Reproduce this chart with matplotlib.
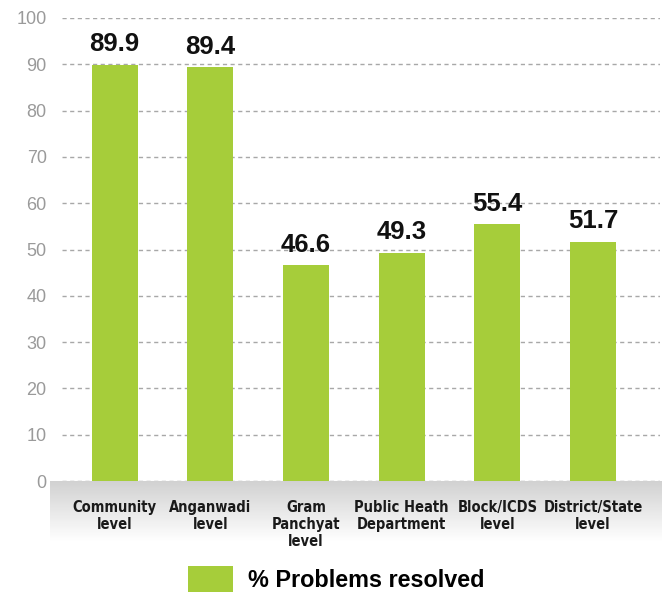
import numpy as np
import matplotlib.pyplot as plt

# Share of problems resolved at each level
categories = ["Community\nlevel", "Anganwadi\nlevel", "Gram\nPanchyat\nlevel",
              "Public Heath\nDepartment", "Block/ICDS\nlevel", "District/State\nlevel"]
resolved = [89.9, 89.4, 46.6, 49.3, 55.4, 51.7]
series_name = "% Problems resolved"
yticks = [0, 10, 20, 30, 40, 50, 60, 70, 80, 90, 100]

green = "#a6cd3a"
W, H = 662, 592

fig = plt.figure(figsize=(W / 100, H / 100), dpi=100)

# grey fade under the category labels
bg = fig.add_axes([50 / W, 1 - 542 / H, 612 / W, 61 / H], zorder=0)
grad = np.linspace(0.82, 1.0, 100).reshape(-1, 1)
bg.imshow(grad, aspect="auto", cmap="gray", vmin=0, vmax=1, extent=[0, 1, 0, 1])
bg.axis("off")

ax = fig.add_axes([62 / W, 1 - 481 / H, 598 / W, 463 / H], zorder=1)
ax.patch.set_alpha(0)

x = np.arange(len(categories))
bars = ax.bar(x, resolved, width=0.48, color=green, zorder=2, label=series_name)

for xi, v in zip(x, resolved):
    ax.annotate(f"{v}", (xi, v), xytext=(0, 6), textcoords="offset points",
                ha="center", va="bottom", fontsize=18.5, fontweight="bold",
                family=["Liberation Sans", "DejaVu Sans"], color="#111111")

ax.set_xlim(-0.55, len(categories) - 0.3)
ax.set_ylim(0, 100)
ax.set_yticks(yticks)
ax.yaxis.grid(True, linestyle=(0, (3, 2.5)), color="#a8a8a8", linewidth=1, zorder=0)
ax.set_axisbelow(True)
for s in ax.spines.values():
    s.set_visible(False)
ax.tick_params(axis="both", length=0)
ax.tick_params(axis="y", pad=11, labelsize=13, labelcolor="#9a9a9a")
ax.tick_params(axis="x", pad=14)
for lbl in ax.get_yticklabels():
    lbl.set_family(["Liberation Sans", "DejaVu Sans"])

ax.set_xticks(x)
ax.set_xticklabels(categories, fontsize=10.5, fontweight="bold", linespacing=1.15,
                   family="DejaVu Sans", fontstretch="condensed", color="#1a1a1a")

fig.legend(handles=[bars], labels=[series_name], loc="lower center",
           bbox_to_anchor=(0.508, -0.035), frameon=False, handlelength=1.95,
           handleheight=1.3, handletextpad=0.65,
           prop={"size": 16.8, "weight": "bold", "family": ["Liberation Sans", "DejaVu Sans"]})

fig.savefig("out.png", dpi=100)
